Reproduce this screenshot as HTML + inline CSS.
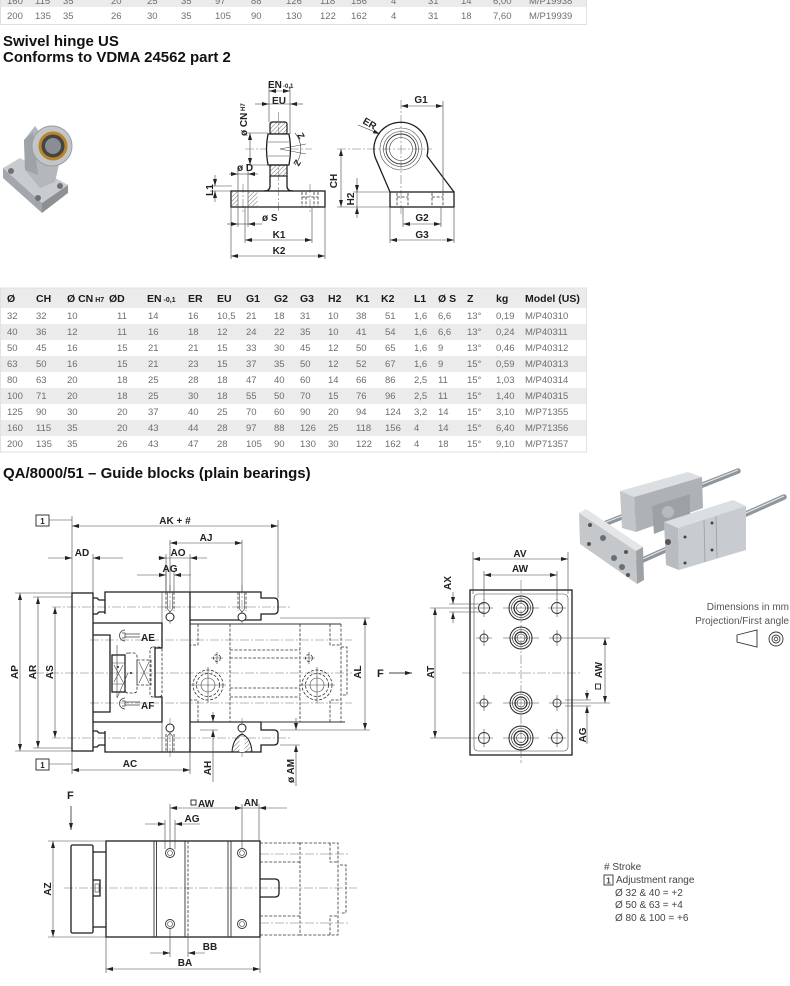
<!DOCTYPE html>
<html><head><meta charset="utf-8">
<style>
html,body{margin:0;padding:0;background:#fff;}
svg{display:block}
.o{stroke:#1e1e1e;stroke-width:1.3;fill:none}
.ow{stroke:#1e1e1e;stroke-width:1.3;fill:#fff}
.t{stroke:#444;stroke-width:.6;fill:none}
.tt{stroke:#333;stroke-width:.9;fill:none}
.c{stroke:#777;stroke-width:.6;fill:none;stroke-dasharray:9 2 2 2}
.d{stroke:#333;stroke-width:.8;fill:none;stroke-dasharray:3 1.6}
.m2{marker-start:url(#a);marker-end:url(#a)}
.m1{marker-end:url(#a)}
.l{font-family:"Liberation Sans",sans-serif;font-weight:bold;font-size:10px;fill:#222}
.g{font-family:"Liberation Sans",sans-serif;font-size:9.5px;fill:#6e6e6e}
.hd{font-family:"Liberation Sans",sans-serif;font-weight:bold;font-size:10.5px;fill:#1a1a1a}
.tl{font-family:"Liberation Sans",sans-serif;font-weight:bold;font-size:15px;fill:#111}
.lg{font-family:"Liberation Sans",sans-serif;font-size:10px;fill:#444}
</style></head><body>
<svg width="790" height="986" viewBox="0 0 790 986" xmlns="http://www.w3.org/2000/svg">
<defs>
<marker id="a" markerUnits="userSpaceOnUse" markerWidth="7" markerHeight="4" refX="7" refY="2" orient="auto-start-reverse" viewBox="0 0 7 4"><path d="M0,0 L7,2 L0,4z" fill="#222"/></marker>
<pattern id="h" width="3" height="3" patternUnits="userSpaceOnUse" patternTransform="rotate(45)"><line x1="0" y1="0" x2="0" y2="3" stroke="#333" stroke-width="0.7"/></pattern>
</defs>

<!-- ===== TOP TABLE (partial) ===== -->
<rect x="0" y="-9" width="587" height="16" fill="#ebebeb"/>
<rect x="0.5" y="-9" width="586" height="33.5" fill="none" stroke="#e0e0e0"/>
<g class="g">
<text x="7" y="4">160</text><text x="35" y="4">115</text><text x="63" y="4">35</text><text x="111" y="4">20</text><text x="147" y="4">25</text><text x="181" y="4">35</text><text x="215" y="4">97</text><text x="251" y="4">88</text><text x="286" y="4">126</text><text x="320" y="4">118</text><text x="351" y="4">156</text><text x="391" y="4">4</text><text x="428" y="4">31</text><text x="461" y="4">14</text><text x="493" y="4">6,00</text><text x="529" y="4">M/P19938</text>
<text x="7" y="19">200</text><text x="35" y="19">135</text><text x="63" y="19">35</text><text x="111" y="19">26</text><text x="147" y="19">30</text><text x="181" y="19">35</text><text x="215" y="19">105</text><text x="251" y="19">90</text><text x="286" y="19">130</text><text x="320" y="19">122</text><text x="351" y="19">162</text><text x="391" y="19">4</text><text x="428" y="19">31</text><text x="461" y="19">18</text><text x="493" y="19">7,60</text><text x="529" y="19">M/P19939</text>
</g>

<text class="tl" x="3" y="46">Swivel hinge US</text>
<text class="tl" x="3" y="62">Conforms to VDMA 24562 part 2</text>

<!-- ===== SWIVEL HINGE PHOTO ===== -->
<g>
<polygon points="3,168 20,158 68,185 42,203" fill="#c9ccce"/>
<polygon points="3,168 42,203 42,213 3,178" fill="#a3a7ab"/>
<polygon points="42,203 68,185 68,193 42,213" fill="#8d9196"/>
<circle cx="11" cy="171" r="3" fill="#6d7176"/>
<circle cx="60" cy="186" r="3" fill="#6d7176"/>
<circle cx="38" cy="198" r="3" fill="#6d7176"/>
<polygon points="25,170 24,140 35,126 60,160 55,182 40,188" fill="#b4b8bc"/>
<polygon points="24,140 33,132 38,175 25,170" fill="#9ea3a8"/>
<circle cx="52" cy="146" r="20" fill="#c3c6c9" stroke="#9a9ea3"/>
<circle cx="53" cy="146" r="13" fill="#444" stroke="#b8862b" stroke-width="3"/>
<circle cx="53" cy="146" r="8" fill="#8a8e92"/>
</g>

<!-- ===== SWIVEL HINGE FRONT VIEW ===== -->
<g>
<line x1="278.5" y1="112" x2="278.5" y2="212" class="c"/>
<line x1="245" y1="149" x2="312" y2="149" class="c"/>
<line x1="243" y1="184" x2="243" y2="212" class="c"/>
<line x1="310" y1="184" x2="310" y2="212" class="c"/>
<rect x="231" y="191" width="94" height="16" class="o"/>
<rect x="232" y="192" width="6" height="14" fill="url(#h)"/>
<rect x="248" y="192" width="9.5" height="14" fill="url(#h)"/>
<line x1="238" y1="191" x2="238" y2="207" class="t"/>
<line x1="248" y1="191" x2="248" y2="207" class="t"/>
<path d="M302,192 V207 M306,192 V207 M314,192 V207 M318,192 V207 M302,197 H318" class="d"/>
<path d="M270,176 V186 Q270,191 264,191 M287,176 V186 Q287,191 293,191" class="o"/>
<rect x="270" y="122" width="17" height="12" rx="2" fill="url(#h)" stroke="#1e1e1e" stroke-width="1.2"/>
<path d="M268,134 Q265,149 268,165 H289 Q292,149 289,134 Z" class="ow"/>
<rect x="270" y="165" width="17" height="11" fill="url(#h)" stroke="#1e1e1e" stroke-width="1.2"/>
<line x1="268" y1="142" x2="289" y2="142" class="t"/>
<line x1="268" y1="156" x2="289" y2="156" class="t"/>
<path d="M295,133 A25,25 0 0 1 295,165" class="t"/>
<line x1="280" y1="149" x2="306" y2="144" class="t"/>
<line x1="280" y1="149" x2="306" y2="154" class="t"/>
<text class="l" style="font-size:9px" transform="translate(297,135) rotate(60)">Z</text>
<text class="l" style="font-size:9px" transform="translate(296,159) rotate(120)">Z</text>
<line x1="269" y1="86" x2="269" y2="122" class="t"/>
<line x1="290" y1="86" x2="290" y2="134" class="t"/>
<line x1="269" y1="91" x2="290" y2="91" class="t m2"/>
<text class="l" x="268" y="88">EN</text><text class="l" x="283" y="88" style="font-size:6px">-0,1</text>
<line x1="255" y1="104" x2="269" y2="104" class="t m1"/>
<line x1="303" y1="104" x2="290" y2="104" class="t m1"/>
<line x1="269" y1="104" x2="290" y2="104" class="t"/>
<text class="l" x="279" y="104" text-anchor="middle">EU</text>
<line x1="246" y1="133" x2="268" y2="133" class="t"/>
<line x1="246" y1="165" x2="268" y2="165" class="t"/>
<line x1="250" y1="133" x2="250" y2="165" class="t m2"/>
<text class="l" transform="translate(247,136) rotate(-90)">ø CN<tspan style="font-size:6px" dy="-2"> H7</tspan></text>
<line x1="238" y1="171" x2="238" y2="191" class="t"/>
<line x1="248" y1="171" x2="248" y2="191" class="t"/>
<line x1="229" y1="174" x2="238" y2="174" class="t m1"/>
<line x1="258" y1="174" x2="248" y2="174" class="t m1"/>
<line x1="238" y1="174" x2="248" y2="174" class="t"/>
<text class="l" x="237" y="171">ø D</text>
<line x1="210" y1="186" x2="232" y2="186" class="t"/>
<line x1="210" y1="191" x2="231" y2="191" class="t"/>
<line x1="215" y1="175" x2="215" y2="186" class="t m1"/>
<line x1="215" y1="202" x2="215" y2="191" class="t m1"/>
<text class="l" transform="translate(213,190) rotate(-90)" text-anchor="middle">L1</text>
<line x1="238" y1="207" x2="238" y2="227" class="t"/>
<line x1="248" y1="207" x2="248" y2="227" class="t"/>
<line x1="227" y1="224" x2="238" y2="224" class="t m1"/>
<line x1="262" y1="224" x2="248" y2="224" class="t m1"/>
<line x1="238" y1="224" x2="248" y2="224" class="t"/>
<text class="l" x="262" y="221">ø S</text>
<line x1="245" y1="207" x2="245" y2="243" class="t"/>
<line x1="312" y1="207" x2="312" y2="243" class="t"/>
<line x1="245" y1="240" x2="312" y2="240" class="t m2"/>
<text class="l" x="279" y="238" text-anchor="middle">K1</text>
<line x1="231" y1="207" x2="231" y2="259" class="t"/>
<line x1="325" y1="207" x2="325" y2="259" class="t"/>
<line x1="231" y1="256" x2="325" y2="256" class="t m2"/>
<text class="l" x="279" y="254" text-anchor="middle">K2</text>
</g>

<!-- ===== SWIVEL HINGE SIDE VIEW ===== -->
<g>
<line x1="401" y1="100" x2="401" y2="214" class="c"/>
<line x1="337" y1="149" x2="432" y2="149" class="c"/>
<path d="M390,192 L375,157 A27,27 0 1 1 427,156 L454,192" class="o"/>
<circle cx="401" cy="149" r="21" class="t"/>
<circle cx="401" cy="149" r="17.5" class="t"/>
<circle cx="401" cy="149" r="15" class="tt"/>
<circle cx="401" cy="149" r="11.5" class="t"/>
<rect x="390" y="192" width="64" height="15" class="o"/>
<path d="M397,193 V207 M408,193 V207 M432,193 V207 M443,193 V207 M397,197 H408 M432,197 H443" class="d"/>
<line x1="358" y1="125" x2="380" y2="134" class="t m1"/>
<text class="l" transform="translate(362,123) rotate(30)">ER</text>
<line x1="337" y1="207" x2="390" y2="207" class="t"/>
<line x1="341" y1="149" x2="341" y2="207" class="t m2"/>
<text class="l" transform="translate(337,181) rotate(-90)" text-anchor="middle">CH</text>
<line x1="353" y1="192" x2="390" y2="192" class="t"/>
<line x1="357" y1="178" x2="357" y2="192" class="t m1"/>
<line x1="357" y1="218" x2="357" y2="207" class="t m1"/>
<line x1="357" y1="192" x2="357" y2="207" class="t"/>
<text class="l" transform="translate(354,199) rotate(-90)" text-anchor="middle">H2</text>
<line x1="443" y1="101" x2="443" y2="192" class="t"/>
<line x1="401" y1="106" x2="443" y2="106" class="t m2"/>
<text class="l" x="421" y="103" text-anchor="middle">G1</text>
<line x1="403" y1="207" x2="403" y2="227" class="t"/>
<line x1="441" y1="207" x2="441" y2="227" class="t"/>
<line x1="403" y1="224" x2="441" y2="224" class="t m2"/>
<text class="l" x="422" y="221" text-anchor="middle">G2</text>
<line x1="390" y1="207" x2="390" y2="243" class="t"/>
<line x1="454" y1="207" x2="454" y2="243" class="t"/>
<line x1="390" y1="240" x2="454" y2="240" class="t m2"/>
<text class="l" x="422" y="238" text-anchor="middle">G3</text>
</g>

<!-- ===== MAIN TABLE ===== -->
<rect x="0" y="288" width="587" height="20" fill="#ebebeb"/>
<rect x="0" y="324" width="587" height="16" fill="#ebebeb"/>
<rect x="0" y="356" width="587" height="16" fill="#ebebeb"/>
<rect x="0" y="388" width="587" height="16" fill="#ebebeb"/>
<rect x="0" y="420" width="587" height="16" fill="#ebebeb"/>
<rect x="0.5" y="288" width="586" height="164" fill="none" stroke="#e2e2e2"/>
<g class="hd">
<text x="7" y="302">Ø</text><text x="36" y="302">CH</text><text x="67" y="302">Ø CN<tspan style="font-size:7px"> H7</tspan></text><text x="109" y="302">ØD</text><text x="147" y="302">EN<tspan style="font-size:7px"> -0,1</tspan></text><text x="188" y="302">ER</text><text x="217" y="302">EU</text><text x="246" y="302">G1</text><text x="274" y="302">G2</text><text x="300" y="302">G3</text><text x="328" y="302">H2</text><text x="356" y="302">K1</text><text x="381" y="302">K2</text><text x="414" y="302">L1</text><text x="438" y="302">Ø S</text><text x="467" y="302">Z</text><text x="496" y="302">kg</text><text x="525" y="302">Model (US)</text>
</g>
<g class="g">
<text y="319"><tspan x="7">32</tspan><tspan x="36">32</tspan><tspan x="67">10</tspan><tspan x="117">11</tspan><tspan x="148">14</tspan><tspan x="188">16</tspan><tspan x="217">10,5</tspan><tspan x="246">21</tspan><tspan x="274">18</tspan><tspan x="300">31</tspan><tspan x="328">10</tspan><tspan x="356">38</tspan><tspan x="385">51</tspan><tspan x="414">1,6</tspan><tspan x="438">6,6</tspan><tspan x="467">13°</tspan><tspan x="496">0,19</tspan><tspan x="525">M/P40310</tspan></text>
<text y="335"><tspan x="7">40</tspan><tspan x="36">36</tspan><tspan x="67">12</tspan><tspan x="117">11</tspan><tspan x="148">16</tspan><tspan x="188">18</tspan><tspan x="217">12</tspan><tspan x="246">24</tspan><tspan x="274">22</tspan><tspan x="300">35</tspan><tspan x="328">10</tspan><tspan x="356">41</tspan><tspan x="385">54</tspan><tspan x="414">1,6</tspan><tspan x="438">6,6</tspan><tspan x="467">13°</tspan><tspan x="496">0,24</tspan><tspan x="525">M/P40311</tspan></text>
<text y="351"><tspan x="7">50</tspan><tspan x="36">45</tspan><tspan x="67">16</tspan><tspan x="117">15</tspan><tspan x="148">21</tspan><tspan x="188">21</tspan><tspan x="217">15</tspan><tspan x="246">33</tspan><tspan x="274">30</tspan><tspan x="300">45</tspan><tspan x="328">12</tspan><tspan x="356">50</tspan><tspan x="385">65</tspan><tspan x="414">1,6</tspan><tspan x="438">9</tspan><tspan x="467">13°</tspan><tspan x="496">0,46</tspan><tspan x="525">M/P40312</tspan></text>
<text y="367"><tspan x="7">63</tspan><tspan x="36">50</tspan><tspan x="67">16</tspan><tspan x="117">15</tspan><tspan x="148">21</tspan><tspan x="188">23</tspan><tspan x="217">15</tspan><tspan x="246">37</tspan><tspan x="274">35</tspan><tspan x="300">50</tspan><tspan x="328">12</tspan><tspan x="356">52</tspan><tspan x="385">67</tspan><tspan x="414">1,6</tspan><tspan x="438">9</tspan><tspan x="467">15°</tspan><tspan x="496">0,59</tspan><tspan x="525">M/P40313</tspan></text>
<text y="383"><tspan x="7">80</tspan><tspan x="36">63</tspan><tspan x="67">20</tspan><tspan x="117">18</tspan><tspan x="148">25</tspan><tspan x="188">28</tspan><tspan x="217">18</tspan><tspan x="246">47</tspan><tspan x="274">40</tspan><tspan x="300">60</tspan><tspan x="328">14</tspan><tspan x="356">66</tspan><tspan x="385">86</tspan><tspan x="414">2,5</tspan><tspan x="438">11</tspan><tspan x="467">15°</tspan><tspan x="496">1,03</tspan><tspan x="525">M/P40314</tspan></text>
<text y="399"><tspan x="7">100</tspan><tspan x="36">71</tspan><tspan x="67">20</tspan><tspan x="117">18</tspan><tspan x="148">25</tspan><tspan x="188">30</tspan><tspan x="217">18</tspan><tspan x="246">55</tspan><tspan x="274">50</tspan><tspan x="300">70</tspan><tspan x="328">15</tspan><tspan x="356">76</tspan><tspan x="385">96</tspan><tspan x="414">2,5</tspan><tspan x="438">11</tspan><tspan x="467">15°</tspan><tspan x="496">1,40</tspan><tspan x="525">M/P40315</tspan></text>
<text y="415"><tspan x="7">125</tspan><tspan x="36">90</tspan><tspan x="67">30</tspan><tspan x="117">20</tspan><tspan x="148">37</tspan><tspan x="188">40</tspan><tspan x="217">25</tspan><tspan x="246">70</tspan><tspan x="274">60</tspan><tspan x="300">90</tspan><tspan x="328">20</tspan><tspan x="356">94</tspan><tspan x="385">124</tspan><tspan x="414">3,2</tspan><tspan x="438">14</tspan><tspan x="467">15°</tspan><tspan x="496">3,10</tspan><tspan x="525">M/P71355</tspan></text>
<text y="431"><tspan x="7">160</tspan><tspan x="36">115</tspan><tspan x="67">35</tspan><tspan x="117">20</tspan><tspan x="148">43</tspan><tspan x="188">44</tspan><tspan x="217">28</tspan><tspan x="246">97</tspan><tspan x="274">88</tspan><tspan x="300">126</tspan><tspan x="328">25</tspan><tspan x="356">118</tspan><tspan x="385">156</tspan><tspan x="414">4</tspan><tspan x="438">14</tspan><tspan x="467">15°</tspan><tspan x="496">6,40</tspan><tspan x="525">M/P71356</tspan></text>
<text y="447"><tspan x="7">200</tspan><tspan x="36">135</tspan><tspan x="67">35</tspan><tspan x="117">26</tspan><tspan x="148">43</tspan><tspan x="188">47</tspan><tspan x="217">28</tspan><tspan x="246">105</tspan><tspan x="274">90</tspan><tspan x="300">130</tspan><tspan x="328">30</tspan><tspan x="356">122</tspan><tspan x="385">162</tspan><tspan x="414">4</tspan><tspan x="438">18</tspan><tspan x="467">15°</tspan><tspan x="496">9,10</tspan><tspan x="525">M/P71357</tspan></text>
</g>

<text class="tl" x="3" y="478">QA/8000/51 – Guide blocks (plain bearings)</text>

<!-- ===== GUIDE BLOCK PHOTO ===== -->
<g>
<line x1="604" y1="524" x2="738" y2="471" stroke="#8e959b" stroke-width="5.5" stroke-linecap="round"/>
<line x1="604" y1="523" x2="738" y2="470" stroke="#e2e6e9" stroke-width="1.2"/>
<line x1="636" y1="563" x2="784" y2="497" stroke="#8e959b" stroke-width="5.5" stroke-linecap="round"/>
<line x1="636" y1="562" x2="784" y2="496" stroke="#e2e6e9" stroke-width="1.2"/>
<polygon points="620,491 688,472 702,477 634,497" fill="#dcdfe1"/>
<polygon points="620,491 634,497 636,532 622,528" fill="#c2c6c9"/>
<polygon points="634,497 702,477 703,508 636,532" fill="#aeb2b6"/>
<polygon points="652,506 690,494 690,520 654,534" fill="#9ca1a6"/>
<circle cx="668" cy="512" r="6" fill="#b7bbbf"/>
<polygon points="664,522 733,500 746,506 678,528" fill="#dcdfe1"/>
<polygon points="664,522 678,528 679,570 666,565" fill="#b8bcc0"/>
<polygon points="678,528 746,506 746,550 679,570" fill="#c8cbcf"/>
<line x1="704" y1="520" x2="705" y2="562" stroke="#9ca0a4" stroke-width="0.8"/>
<line x1="716" y1="516" x2="717" y2="558" stroke="#9ca0a4" stroke-width="0.8"/>
<circle cx="668" cy="542" r="3" fill="#555"/>
<polygon points="579,513 586,509 643,547 636,551" fill="#e3e5e7"/>
<polygon points="579,513 636,551 637,584 580,544" fill="#c5c8cb"/>
<polygon points="636,551 643,547 644,580 637,584" fill="#9ea2a6"/>
<circle cx="590" cy="525" r="2" fill="#555"/><circle cx="626" cy="552" r="2" fill="#555"/>
<circle cx="589" cy="544" r="2" fill="#555"/><circle cx="628" cy="575" r="2" fill="#555"/>
<circle cx="603" cy="538" r="3" fill="#6a6f74"/><circle cx="614" cy="558" r="3" fill="#6a6f74"/><circle cx="622" cy="567" r="3" fill="#6a6f74"/>
<circle cx="685" cy="537" r="1.5" fill="#444"/><circle cx="712" cy="523" r="1.5" fill="#444"/><circle cx="712" cy="550" r="1.5" fill="#444"/><circle cx="685" cy="563" r="1.5" fill="#444"/>
</g>

<text class="lg" x="789" y="610" text-anchor="end" style="fill:#555">Dimensions in mm</text>
<text class="lg" x="789" y="624" text-anchor="end" style="fill:#555">Projection/First angle</text>
<polygon points="737,635 757,630 757,647 737,642" fill="none" stroke="#333" stroke-width="0.9"/>
<circle cx="776" cy="639" r="7" fill="none" stroke="#333" stroke-width="0.9"/>
<circle cx="776" cy="639" r="4" fill="none" stroke="#333" stroke-width="0.9"/>
<circle cx="776" cy="639" r="1.8" fill="none" stroke="#333" stroke-width="0.8"/>

<!-- ===== GUIDE LEFT DRAWING ===== -->
<g>
<line x1="52" y1="607" x2="290" y2="607" class="c"/>
<line x1="52" y1="738" x2="290" y2="738" class="c"/>
<line x1="35" y1="673" x2="352" y2="673" class="c"/>
<line x1="90" y1="640" x2="352" y2="640" class="c"/>
<line x1="90" y1="703" x2="352" y2="703" class="c"/>
<line x1="170" y1="585" x2="170" y2="625" class="c"/>
<line x1="242" y1="585" x2="242" y2="625" class="c"/>
<line x1="170" y1="718" x2="170" y2="758" class="c"/>
<line x1="242" y1="718" x2="242" y2="758" class="c"/>
<rect x="72" y="593" width="21" height="158" class="o"/>
<path d="M105,614 V592 H261 V598 H274 Q278,598 278,602 V610 Q278,614 274,614 H261 V620 H190" class="o"/>
<path d="M93,598 H97 L99,600 H105 M93,614 H97 L99,612 H105" class="o"/>
<path d="M93,623 H162 V648 H155 V697 H162 V722 H93" class="o"/>
<path d="M93,635 H110 V712 H93" class="o"/>
<line x1="190" y1="592" x2="190" y2="752" class="o"/>
<line x1="162" y1="592" x2="162" y2="623" class="t"/>
<line x1="162" y1="722" x2="162" y2="752" class="t"/>
<path d="M190,722 H261 V730 H274 Q278,730 278,734 V741 Q278,745 274,745 H261 V752 H105 V731" class="o"/>
<path d="M93,731 H97 L99,733 H105 M93,747 H97 L99,745 H105" class="o"/>
<rect x="112" y="655" width="13" height="37" class="o"/>
<path d="M112,663 H125 M112,684 H125 M114,665 L123,682 M123,665 L114,682" class="t"/>
<rect x="125" y="653" width="12" height="40" rx="3" class="d"/>
<circle cx="131" cy="673" r="1" fill="#222"/>
<circle cx="118" cy="667" r="1" fill="#222"/>
<rect x="137" y="660" width="14" height="25" class="d"/>
<path d="M139,662 L149,683 M149,662 L139,683" class="t"/>
<rect x="150" y="647" width="12" height="50" rx="3" class="d"/>
<path d="M125,630 A4,4 0 1 0 125,641 M122,633 H125 V638 H122 M125,634 H140 M125,637 H140" class="t" style="stroke-width:.8"/>
<text class="l" x="141" y="641">AE</text>
<path d="M125,698 A4,4 0 1 0 125,709 M122,701 H125 V706 H122 M125,702 H140 M125,705 H140" class="t" style="stroke-width:.8"/>
<text class="l" x="141" y="709">AF</text>
<path d="M117,645 V698 M117,698 L128,673" class="t"/>
<path d="M166,592 V611 M174,592 V611 M238,592 V611 M246,592 V611" class="d"/>
<path d="M167.5,592 V609 L170,612 L172.5,609 V592 M239.5,592 V609 L242,612 L244.5,609 V592" class="t"/>
<circle cx="170" cy="617" r="4" class="ow" style="stroke-width:1"/>
<circle cx="242" cy="617" r="4" class="ow" style="stroke-width:1"/>
<circle cx="170" cy="728" r="4" class="ow" style="stroke-width:1"/>
<path d="M166,734 V752 M174,734 V752" class="d"/>
<path d="M167.5,752 V736 L170,733 L172.5,736 V752" class="t"/>
<circle cx="242" cy="728" r="4" class="ow" style="stroke-width:1"/>
<path d="M232,752 Q233,738 242,734 Q251,738 252,752 Z" fill="url(#h)" stroke="#1e1e1e" stroke-width="1"/>
<rect x="239.5" y="737" width="5" height="15" fill="#fff"/>
<path d="M190,624 H341 M190,722 H345" stroke="#333" stroke-width="1" fill="none"/>
<path d="M341,624 V722 M230,624 V722 M300,624 V722 M230,650 H300 M230,658 H300 M230,688 H300 M230,697 H300" class="d"/>
<path d="M198,624 V645 H190 M198,722 V700 H190 M330,624 V645 H341 M330,722 V700 H341 M341,647 H347 V695 H341" class="d"/>
<circle cx="217" cy="658" r="3.5" class="d"/><circle cx="309" cy="658" r="3.5" class="d"/>
<path d="M211,658 H223 M217,652 V664 M303,658 H315 M309,652 V664" class="t"/>
<circle cx="208" cy="685" r="15" class="d"/><circle cx="208" cy="685" r="11.5" class="d"/><circle cx="208" cy="685" r="7" class="t"/>
<circle cx="317" cy="685" r="15" class="d"/><circle cx="317" cy="685" r="11.5" class="d"/><circle cx="317" cy="685" r="7" class="t"/>
<path d="M190,685 H226 M208,667 V703 M299,685 H335 M317,667 V703" class="t"/>
<rect x="36" y="515" width="13" height="11" fill="none" stroke="#222" stroke-width="0.9"/>
<text class="l" x="42.5" y="524" text-anchor="middle" style="font-size:8px">1</text>
<line x1="49" y1="520" x2="72" y2="520" class="t"/>
<line x1="72" y1="516" x2="72" y2="593" class="t"/>
<line x1="278" y1="520" x2="278" y2="598" class="t"/>
<line x1="72" y1="526" x2="278" y2="526" class="t m2"/>
<text class="l" x="175" y="524" text-anchor="middle">AK + #</text>
<line x1="170" y1="540" x2="170" y2="592" class="t"/>
<line x1="242" y1="540" x2="242" y2="592" class="t"/>
<line x1="170" y1="543" x2="242" y2="543" class="t m2"/>
<text class="l" x="206" y="541" text-anchor="middle">AJ</text>
<line x1="93" y1="554" x2="93" y2="593" class="t"/>
<line x1="48" y1="558" x2="72" y2="558" class="t m1"/>
<line x1="123" y1="558" x2="93" y2="558" class="t m1"/>
<text class="l" x="82" y="556" text-anchor="middle">AD</text>
<line x1="166" y1="554" x2="166" y2="592" class="t"/>
<line x1="190" y1="554" x2="190" y2="592" class="t"/>
<line x1="158" y1="558" x2="166" y2="558" class="t m1"/>
<line x1="207" y1="558" x2="190" y2="558" class="t m1"/>
<line x1="166" y1="558" x2="190" y2="558" class="t"/>
<text class="l" x="178" y="556" text-anchor="middle">AO</text>
<line x1="166" y1="571" x2="166" y2="592" class="t"/>
<line x1="174" y1="571" x2="174" y2="592" class="t"/>
<line x1="137" y1="575" x2="166" y2="575" class="t m1"/>
<line x1="191" y1="575" x2="174" y2="575" class="t m1"/>
<text class="l" x="170" y="572" text-anchor="middle">AG</text>
<line x1="15" y1="593" x2="72" y2="593" class="t"/>
<line x1="15" y1="751" x2="72" y2="751" class="t"/>
<line x1="33" y1="597" x2="72" y2="597" class="t"/>
<line x1="33" y1="748" x2="72" y2="748" class="t"/>
<line x1="20" y1="593" x2="20" y2="751" class="t m2"/>
<line x1="38" y1="597" x2="38" y2="748" class="t m2"/>
<line x1="55" y1="607" x2="55" y2="738" class="t m2"/>
<text class="l" transform="translate(18,672) rotate(-90)" text-anchor="middle">AP</text>
<text class="l" transform="translate(36,672) rotate(-90)" text-anchor="middle">AR</text>
<text class="l" transform="translate(53,672) rotate(-90)" text-anchor="middle">AS</text>
<rect x="36" y="759" width="13" height="11" fill="none" stroke="#222" stroke-width="0.9"/>
<text class="l" x="42.5" y="768" text-anchor="middle" style="font-size:8px">1</text>
<line x1="49" y1="764" x2="72" y2="764" class="t"/>
<line x1="72" y1="751" x2="72" y2="774" class="t"/>
<line x1="190" y1="752" x2="190" y2="774" class="t"/>
<line x1="72" y1="770" x2="190" y2="770" class="t m2"/>
<text class="l" x="130" y="767" text-anchor="middle">AC</text>
<line x1="213" y1="712" x2="213" y2="722" class="t m1"/>
<line x1="213" y1="782" x2="213" y2="730" class="t m1"/>
<line x1="200" y1="730" x2="218" y2="730" class="t"/>
<text class="l" transform="translate(211,768) rotate(-90)" text-anchor="middle">AH</text>
<line x1="280" y1="730" x2="300" y2="730" class="t"/>
<line x1="280" y1="745" x2="300" y2="745" class="t"/>
<line x1="296" y1="718" x2="296" y2="730" class="t m1"/>
<line x1="296" y1="786" x2="296" y2="745" class="t m1"/>
<text class="l" transform="translate(294,771) rotate(-90)" text-anchor="middle">ø AM</text>
<line x1="280" y1="618" x2="370" y2="618" class="t"/>
<line x1="300" y1="730" x2="370" y2="730" class="t"/>
<line x1="365" y1="618" x2="365" y2="730" class="t m2"/>
<text class="l" transform="translate(361,672) rotate(-90)" text-anchor="middle">AL</text>
<text class="l" x="377" y="677" style="font-size:11px">F</text>
<line x1="389" y1="673" x2="412" y2="673" class="t m1" style="stroke-width:.9"/>
</g>

<!-- ===== GUIDE RIGHT DRAWING ===== -->
<g>
<line x1="462" y1="673" x2="580" y2="673" class="c"/>
<line x1="521" y1="580" x2="521" y2="763" class="c"/>
<rect x="470" y="590" width="102" height="165" class="o"/>
<rect x="474" y="594" width="94" height="157" rx="4" class="t"/>
<g class="t">
<path d="M475,608 H493 M484,599 V617 M548,608 H566 M557,599 V617 M475,738 H493 M484,729 V747 M548,738 H566 M557,729 V747"/>
<path d="M476,638 H492 M484,630 V646 M549,638 H565 M557,630 V646 M476,703 H492 M484,695 V711 M549,703 H565 M557,695 V711"/>
<path d="M503,608 H539 M503,638 H539 M503,703 H539 M503,738 H539"/>
</g>
<circle cx="484" cy="608" r="5.5" class="tt"/><circle cx="557" cy="608" r="5.5" class="tt"/>
<circle cx="484" cy="738" r="5.5" class="tt"/><circle cx="557" cy="738" r="5.5" class="tt"/>
<circle cx="484" cy="638" r="4" class="tt"/><circle cx="557" cy="638" r="4" class="tt"/>
<circle cx="484" cy="703" r="4" class="tt"/><circle cx="557" cy="703" r="4" class="tt"/>
<g fill="none" stroke="#222">
<circle cx="521" cy="608" r="12" stroke-width="1"/><circle cx="521" cy="608" r="9.5" stroke-width=".6"/><circle cx="521" cy="608" r="7" stroke-width="1.2"/><circle cx="521" cy="608" r="4.5" stroke-width=".6"/>
<circle cx="521" cy="738" r="12" stroke-width="1"/><circle cx="521" cy="738" r="9.5" stroke-width=".6"/><circle cx="521" cy="738" r="7" stroke-width="1.2"/><circle cx="521" cy="738" r="4.5" stroke-width=".6"/>
<circle cx="521" cy="638" r="11" stroke-width="1"/><circle cx="521" cy="638" r="8.5" stroke-width=".6"/><circle cx="521" cy="638" r="6" stroke-width="1.2"/><circle cx="521" cy="638" r="4" stroke-width=".6"/>
<circle cx="521" cy="703" r="11" stroke-width="1"/><circle cx="521" cy="703" r="8.5" stroke-width=".6"/><circle cx="521" cy="703" r="6" stroke-width="1.2"/><circle cx="521" cy="703" r="4" stroke-width=".6"/>
</g>
<line x1="473" y1="552" x2="473" y2="594" class="t"/>
<line x1="568" y1="552" x2="568" y2="594" class="t"/>
<line x1="473" y1="559" x2="568" y2="559" class="t m2"/>
<text class="l" x="520" y="557" text-anchor="middle">AV</text>
<line x1="484" y1="571" x2="484" y2="600" class="t"/>
<line x1="557" y1="571" x2="557" y2="600" class="t"/>
<line x1="484" y1="575" x2="557" y2="575" class="t m2"/>
<text class="l" x="520" y="572" text-anchor="middle">AW</text>
<line x1="449" y1="604" x2="484" y2="604" class="t"/>
<line x1="449" y1="612" x2="484" y2="612" class="t"/>
<line x1="453" y1="592" x2="453" y2="604" class="t m1"/>
<line x1="453" y1="623" x2="453" y2="612" class="t m1"/>
<text class="l" transform="translate(451,583) rotate(-90)" text-anchor="middle">AX</text>
<line x1="430" y1="608" x2="476" y2="608" class="t"/>
<line x1="430" y1="738" x2="476" y2="738" class="t"/>
<line x1="435" y1="608" x2="435" y2="738" class="t m2"/>
<text class="l" transform="translate(434,672) rotate(-90)" text-anchor="middle">AT</text>
<line x1="565" y1="638" x2="610" y2="638" class="t"/>
<line x1="565" y1="703" x2="610" y2="703" class="t"/>
<line x1="605" y1="638" x2="605" y2="703" class="t m2"/>
<text class="l" transform="translate(602,670) rotate(-90)" text-anchor="middle">AW</text>
<rect x="595.5" y="684" width="5" height="5" fill="none" stroke="#222" stroke-width="0.9"/>
<line x1="565" y1="700" x2="591" y2="700" class="t"/>
<line x1="565" y1="706" x2="591" y2="706" class="t"/>
<line x1="587" y1="690" x2="587" y2="700" class="t m1"/>
<line x1="587" y1="744" x2="587" y2="706" class="t m1"/>
<text class="l" transform="translate(586,735) rotate(-90)" text-anchor="middle">AG</text>
</g>

<!-- ===== GUIDE BOTTOM DRAWING ===== -->
<g>
<line x1="64" y1="888" x2="357" y2="888" class="c"/>
<line x1="260" y1="854" x2="348" y2="854" class="c"/>
<line x1="260" y1="923" x2="348" y2="923" class="c"/>
<rect x="71" y="845" width="22" height="88" rx="1.5" class="o"/>
<path d="M93,852 H106 M93,927 H106 M93,880 H100 V896 H93" class="o"/>
<rect x="95" y="884" width="4" height="8" class="t"/>
<rect x="106" y="841" width="154" height="96" class="o"/>
<path d="M154,841 V937 M156.5,841 V937 M185,841 V937 M228,841 V937 M231,841 V937" class="tt"/>
<line x1="188" y1="841" x2="188" y2="937" class="d"/>
<circle cx="170" cy="853" r="4.5" class="tt"/><circle cx="170" cy="853" r="2.5" class="t"/>
<circle cx="242" cy="853" r="4.5" class="tt"/><circle cx="242" cy="853" r="2.5" class="t"/>
<circle cx="170" cy="924" r="4.5" class="tt"/><circle cx="170" cy="924" r="2.5" class="t"/>
<circle cx="242" cy="924" r="4.5" class="tt"/><circle cx="242" cy="924" r="2.5" class="t"/>
<path d="M260,879 H275 Q279,879 279,883 V893 Q279,897 275,897 H260" class="o"/>
<path d="M260,843 H300 M260,862 H300 M260,916 H300 M260,935 H300 M300,843 H338 V935 H300 Z M330,843 V862 H338 M330,935 V916 H338 M340,865 H346 V913 H340" class="d"/>
<text class="l" x="67" y="799" style="font-size:11px">F</text>
<line x1="71" y1="806" x2="71" y2="830" class="t m1" style="stroke-width:.9"/>
<line x1="170" y1="804" x2="170" y2="849" class="t"/>
<line x1="242" y1="804" x2="242" y2="849" class="t"/>
<line x1="259" y1="804" x2="259" y2="841" class="t"/>
<line x1="170" y1="808" x2="242" y2="808" class="t m2"/>
<line x1="287" y1="808" x2="259" y2="808" class="t m1"/>
<line x1="242" y1="808" x2="259" y2="808" class="t"/>
<rect x="191" y="800" width="5" height="5" fill="none" stroke="#222" stroke-width="0.9"/>
<text class="l" x="198" y="807">AW</text>
<text class="l" x="251" y="806" text-anchor="middle">AN</text>
<line x1="165" y1="820" x2="165" y2="849" class="t"/>
<line x1="175" y1="820" x2="175" y2="849" class="t"/>
<line x1="145" y1="824" x2="165" y2="824" class="t m1"/>
<line x1="200" y1="824" x2="175" y2="824" class="t m1"/>
<text class="l" x="192" y="822" text-anchor="middle">AG</text>
<line x1="48" y1="841" x2="106" y2="841" class="t"/>
<line x1="48" y1="937" x2="106" y2="937" class="t"/>
<line x1="53" y1="841" x2="53" y2="937" class="t m2"/>
<text class="l" transform="translate(51,889) rotate(-90)" text-anchor="middle">AZ</text>
<line x1="170" y1="929" x2="170" y2="957" class="t"/>
<line x1="188" y1="937" x2="188" y2="957" class="t"/>
<line x1="150" y1="953" x2="170" y2="953" class="t m1"/>
<line x1="205" y1="953" x2="188" y2="953" class="t m1"/>
<text class="l" x="210" y="950" text-anchor="middle">BB</text>
<line x1="106" y1="937" x2="106" y2="973" class="t"/>
<line x1="260" y1="937" x2="260" y2="973" class="t"/>
<line x1="106" y1="969" x2="260" y2="969" class="t m2"/>
<text class="l" x="185" y="966" text-anchor="middle">BA</text>
</g>

<!-- ===== LEGEND ===== -->
<text class="lg" x="604" y="870"># Stroke</text>
<rect x="604" y="875" width="9" height="10" fill="none" stroke="#333" stroke-width="0.9"/>
<text class="lg" x="608.5" y="883.5" text-anchor="middle" style="font-size:8px;font-weight:bold">1</text>
<text class="lg" x="616" y="883">Adjustment range</text>
<text class="lg" x="615" y="896">Ø 32 &amp; 40 = +2</text>
<text class="lg" x="615" y="908">Ø 50 &amp; 63 = +4</text>
<text class="lg" x="615" y="921">Ø 80 &amp; 100 = +6</text>
</svg>
</body></html>
